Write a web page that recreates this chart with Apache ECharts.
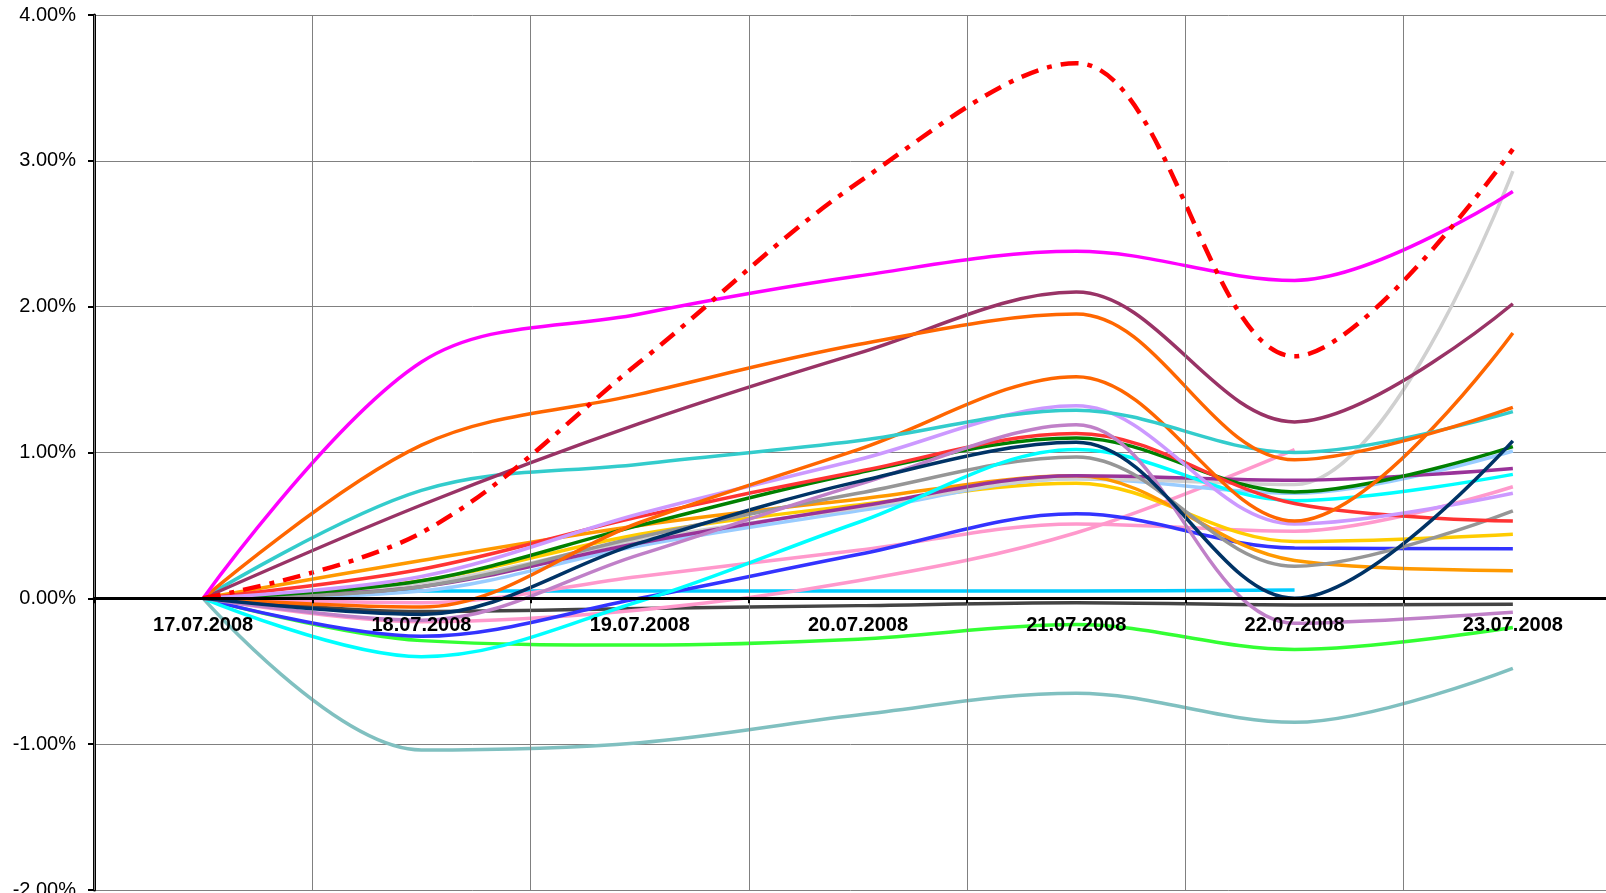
<!DOCTYPE html>
<html>
<head>
<meta charset="utf-8">
<script src="https://cdn.jsdelivr.net/npm/echarts@6/dist/echarts.min.js"></script>
<style>
html,body{margin:0;padding:0;background:#fff;}
#chart{width:1606px;height:893px;}
</style>
</head>
<body>
<div id="chart"></div>
<script>
const dates = ['17.07.2008','18.07.2008','19.07.2008','20.07.2008','21.07.2008','22.07.2008','23.07.2008'];
const yTicks = [-2, -1, 0, 1, 2, 3, 4];

const redDash      = [0, 0.45, 1.62, 2.85, 3.67, 1.66, 3.08];
const magenta      = [0, 1.62, 1.95, 2.21, 2.38, 2.18, 2.79];
const orangeUpper  = [0, 1.05, 1.40, 1.74, 1.95, 0.95, 1.31];
const maroon       = [0, 0.64, 1.20, 1.68, 2.10, 1.21, 2.02];
const teal         = [0, 0.74, 0.92, 1.08, 1.29, 1.00, 1.28];
const orangeLower  = [0, -0.06, 0.52, 1.02, 1.52, 0.53, 1.82];
const lavender     = [0, 0.15, 0.58, 0.95, 1.32, 0.51, 0.72];
const mauve        = [0, -0.15, 0.30, 0.78, 1.19, -0.17, -0.095];
const redDotted    = [0, 0.20, 0.56, 0.87, 1.13, 0.65, 0.53];
const green        = [0, 0.12, 0.50, 0.86, 1.10, 0.73, 1.04];
const navy         = [0, -0.11, 0.38, 0.80, 1.07, 0.00, 1.08];
const cyan         = [0, -0.40, -0.02, 0.52, 1.02, 0.67, 0.85];
const grey         = [0, 0.08, 0.42, 0.72, 0.97, 0.22, 0.60];
const purpleDotted = [0, 0.08, 0.38, 0.63, 0.84, 0.81, 0.89];
const orangeLight  = [0, 0.26, 0.50, 0.68, 0.84, 0.26, 0.19];
const lightGrey    = [0, 0.10, 0.40, 0.62, 0.82, 0.78, 2.93];
const lightBlue    = [0, 0.05, 0.36, 0.60, 0.82, 0.72, 1.01];
const gold         = [0, 0.12, 0.44, 0.64, 0.79, 0.39, 0.44];
const blue         = [0, -0.26, 0.00, 0.30, 0.58, 0.345, 0.34];
const pinkA        = [0, -0.03, 0.15, 0.33, 0.51, 0.46, 0.765];
const pinkB        = [0, -0.16, -0.08, 0.12, 0.45, 1.02, null];
const skyBlue      = [0, 0.05, 0.05, 0.05, 0.05, 0.057, null];
const darkGrey     = [0, -0.09, -0.07, -0.05, -0.03, -0.045, -0.04];
const greenBright  = [0, -0.29, -0.32, -0.28, -0.18, -0.35, -0.20];
const tealGrey     = [0, -1.04, -0.99, -0.80, -0.65, -0.85, -0.48];

const seriesDefs = [
  [tealGrey, '#80C0C0'],
  [greenBright, '#33FF33'],
  [darkGrey, '#444444'],
  [skyBlue, '#00CCFF'],
  [pinkB, '#FF99CC'],
  [pinkA, '#FF99CC'],
  [blue, '#3333FF'],
  [gold, '#FFCC00'],
  [lightBlue, '#99CCFF'],
  [lightGrey, '#D0D0D0'],
  [orangeLight, '#FF9900'],
  [purpleDotted, '#993399'],
  [grey, '#969696'],
  [cyan, '#00FFFF'],
  [green, '#008000'],
  [redDotted, '#FF3333'],
  [mauve, '#C080C8'],
  [lavender, '#CC99FF'],
  [orangeLower, '#FF6600'],
  [teal, '#33CCCC'],
  [maroon, '#993366'],
  [orangeUpper, '#FF6600'],
  [magenta, '#FF00FF'],
  [navy, '#003366'],
];

const series = seriesDefs.map(([d, c]) => ({
  type: 'line', data: d, smooth: 0.35, symbol: 'none', connectNulls: false,
  lineStyle: { color: c, width: 3.5 }, itemStyle: { color: c }
}));
series.push({
  type: 'line', data: redDash, smooth: 0.35, symbol: 'none',
  lineStyle: { color: '#FF0000', width: 4.5, type: [18, 9, 5, 9] }
});

const gridTop = 15, gridBottom = 3, H = 893;
const plotH = H - gridTop - gridBottom;
const zeroOffset = -(plotH * (0 - yTicks[0]) / (yTicks[yTicks.length - 1] - yTicks[0]));

const chart = echarts.init(document.getElementById('chart'), null, { renderer: 'canvas' });
chart.setOption({
  animation: false,
  backgroundColor: '#fff',
  grid: { left: 94, right: -16, top: gridTop, bottom: gridBottom, containLabel: false, outerBoundsMode: 'none' },
  xAxis: {
    type: 'category', data: dates, boundaryGap: true, offset: zeroOffset, z: 5,
    axisLine: { onZero: false, lineStyle: { color: '#000', width: 3 } },
    axisTick: { show: true, length: 5, lineStyle: { color: '#000', width: 2 } },
    axisLabel: { color: '#000', fontSize: 20, fontWeight: 'bold', fontFamily: 'Liberation Sans, Arial', margin: 17, interval: 0 },
    splitLine: { show: true, interval: 0, lineStyle: { color: '#808080', width: 1 } }
  },
  yAxis: {
    type: 'value', min: yTicks[0], max: yTicks[yTicks.length - 1], interval: 1,
    axisLine: { show: true, lineStyle: { color: '#000', width: 3 } },
    axisTick: { show: true, length: 6, lineStyle: { color: '#000', width: 2 } },
    axisLabel: { color: '#000', fontSize: 20, fontFamily: 'Liberation Sans, Arial', margin: 18,
      formatter: v => v.toFixed(2) + '%' },
    splitLine: { show: true, lineStyle: { color: '#808080', width: 1 } }
  },
  series: series
});
</script>
</body>
</html>
